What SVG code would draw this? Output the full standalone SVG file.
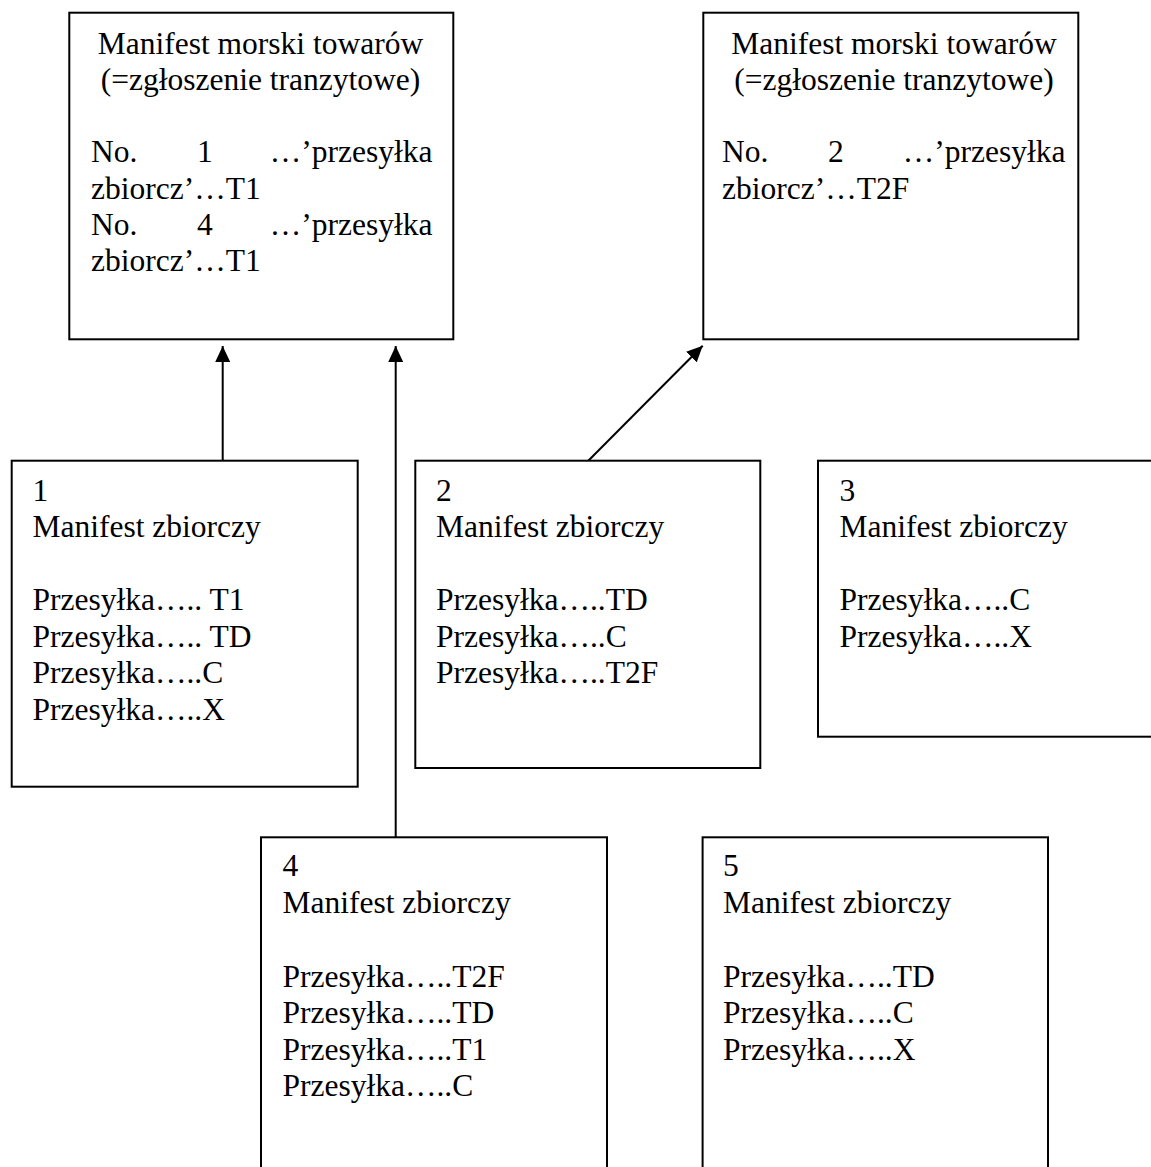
<svg xmlns="http://www.w3.org/2000/svg" width="1151" height="1167" viewBox="0 0 1151 1167">
<style>
  .box { fill: #ffffff; stroke: #000000; stroke-width: 2; }
  .t { font-family: "Liberation Serif", "Times New Roman", serif; font-size: 31.5px; fill: #000000; }
  .c { text-anchor: middle; }
  .e { text-anchor: end; }
  .conn { stroke: #000000; stroke-width: 2; fill: none; marker-end: url(#arrow); }
</style>
<defs>
  <marker id="arrow" markerWidth="16" markerHeight="16" viewBox="0 0 16 16" refX="16" refY="8" orient="auto" markerUnits="userSpaceOnUse">
    <path d="M0,0.5 L16,8 L0,15.5 Z" fill="#000000"/>
  </marker>
</defs>
<rect width="1151" height="1167" fill="#ffffff"/>

<g id="connectors">
  <line class="conn" x1="222.7" y1="460.7" x2="222.7" y2="346"/>
  <line class="conn" x1="395.7" y1="837.3" x2="395.7" y2="346"/>
  <line class="conn" x1="588.3" y1="460.7" x2="702.7" y2="345.7"/>
</g>

<g id="manifest-morski-1">
  <rect class="box" x="69.3" y="12.7" width="384" height="326.6"/>
  <text class="t c" x="260.5" y="53.5">Manifest morski towarów</text>
  <text class="t c" x="260.5" y="89.8">(=zgłoszenie tranzytowe)</text>
  <text class="t" x="91" y="162.4">No.</text>
  <text class="t" x="197" y="162.4">1</text>
  <text class="t e" x="432.5" y="162.4">…’przesyłka</text>
  <text class="t" x="91" y="198.7">zbiorcz’…T1</text>
  <text class="t" x="91" y="235">No.</text>
  <text class="t" x="197" y="235">4</text>
  <text class="t e" x="432.5" y="235">…’przesyłka</text>
  <text class="t" x="91" y="271.3">zbiorcz’…T1</text>
</g>

<g id="manifest-morski-2">
  <rect class="box" x="703.3" y="12.7" width="375" height="326.6"/>
  <text class="t c" x="894" y="53.5">Manifest morski towarów</text>
  <text class="t c" x="894" y="89.8">(=zgłoszenie tranzytowe)</text>
  <text class="t" x="722" y="162.4">No.</text>
  <text class="t" x="828" y="162.4">2</text>
  <text class="t e" x="1065.5" y="162.4">…’przesyłka</text>
  <text class="t" x="722" y="198.7">zbiorcz’…T2F</text>
</g>

<g id="manifest-zbiorczy-1">
  <rect class="box" x="11.7" y="460.7" width="346" height="326"/>
  <text class="t" x="32.5" y="500.5">1</text>
  <text class="t" x="32.5" y="537">Manifest zbiorczy</text>
  <text class="t" x="32.5" y="610">Przesyłka….. T1</text>
  <text class="t" x="32.5" y="646.5">Przesyłka….. TD</text>
  <text class="t" x="32.5" y="683">Przesyłka…..C</text>
  <text class="t" x="32.5" y="719.5">Przesyłka…..X</text>
</g>

<g id="manifest-zbiorczy-2">
  <rect class="box" x="415.3" y="460.7" width="345" height="307.3"/>
  <text class="t" x="436" y="500.5">2</text>
  <text class="t" x="436" y="537">Manifest zbiorczy</text>
  <text class="t" x="436" y="610">Przesyłka…..TD</text>
  <text class="t" x="436" y="646.5">Przesyłka…..C</text>
  <text class="t" x="436" y="683">Przesyłka…..T2F</text>
</g>

<g id="manifest-zbiorczy-3">
  <rect class="box" x="818" y="460.7" width="336" height="276"/>
  <text class="t" x="839.5" y="500.5">3</text>
  <text class="t" x="839.5" y="537">Manifest zbiorczy</text>
  <text class="t" x="839.5" y="610">Przesyłka…..C</text>
  <text class="t" x="839.5" y="646.5">Przesyłka…..X</text>
</g>

<g id="manifest-zbiorczy-4">
  <rect class="box" x="261" y="837.3" width="346" height="340"/>
  <text class="t" x="282.5" y="876">4</text>
  <text class="t" x="282.5" y="913">Manifest zbiorczy</text>
  <text class="t" x="282.5" y="986.5">Przesyłka…..T2F</text>
  <text class="t" x="282.5" y="1023">Przesyłka…..TD</text>
  <text class="t" x="282.5" y="1059.5">Przesyłka…..T1</text>
  <text class="t" x="282.5" y="1096">Przesyłka…..C</text>
</g>

<g id="manifest-zbiorczy-5">
  <rect class="box" x="702.6" y="837.3" width="345.4" height="340"/>
  <text class="t" x="723" y="876">5</text>
  <text class="t" x="723" y="913">Manifest zbiorczy</text>
  <text class="t" x="723" y="986.5">Przesyłka…..TD</text>
  <text class="t" x="723" y="1023">Przesyłka…..C</text>
  <text class="t" x="723" y="1059.5">Przesyłka…..X</text>
</g>
</svg>
